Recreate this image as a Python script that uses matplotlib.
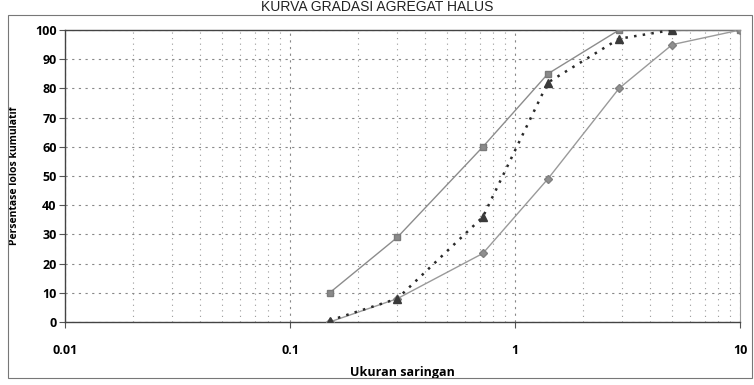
import matplotlib
matplotlib.use("Agg")
import matplotlib.pyplot as plt
from matplotlib.patches import Rectangle
from matplotlib.ticker import LogLocator, FixedLocator, NullFormatter

# Data
sieve = [0.15, 0.3, 0.72, 1.4, 2.9, 5.0, 10.0]
upper_limit = [10, 29, 60, 85, 100, 100, 100]
lower_limit = [0, 8, 23.5, 49, 80, 95, 100]
sample_sieve = [0.15, 0.3, 0.72, 1.4, 2.9, 5.0]
sample = [0.5, 8, 36, 82, 97, 100]
yticks = [0, 10, 20, 30, 40, 50, 60, 70, 80, 90, 100]
xticks = [0.01, 0.1, 1, 10]
xticklabels = ["0.01", "0.1", "1", "10"]

plt.rcParams['font.family'] = ['Open Sans', 'DejaVu Sans']

fig = plt.figure(figsize=(7.54, 3.85), dpi=100)
ax = fig.add_axes([65/754, 1-322/385, (740-65)/754, (322-30)/385])

ax.plot(sieve, upper_limit, color='#8c8c8c', lw=1.0, marker='s',
        markersize=5, markerfacecolor='#8a8a8a', markeredgecolor='#7a7a7a', zorder=3)
ax.plot(sieve, lower_limit, color='#9a9a9a', lw=1.0, marker='D',
        markersize=4, markerfacecolor='#8f8f8f', markeredgecolor='#808080', zorder=3)
ax.plot(sample_sieve, sample, color='#2a2a2a', lw=1.8, ls=(0, (1, 2.5)), marker='^',
        markersize=6, markerfacecolor='#3a3a3a', markeredgecolor='#3a3a3a', zorder=4)

ax.set_xscale('log')
ax.set_xlim(0.01, 10)
ax.set_ylim(0, 100)
ax.xaxis.set_major_locator(FixedLocator(xticks))
ax.xaxis.set_minor_locator(LogLocator(base=10, subs=range(2, 10)))
ax.xaxis.set_minor_formatter(NullFormatter())
ax.set_xticks(xticks)
ax.set_xticklabels(xticklabels)
ax.set_yticks(yticks)

ax.grid(which='major', axis='both', color='#888888', ls=(0, (2, 4)), lw=0.8)
ax.grid(which='minor', axis='x', color='#999999', ls=(0, (1, 4)), lw=0.8)

for lab in ax.get_yticklabels():
    lab.set_fontweight('bold')
    lab.set_fontsize(9)
for lab in ax.get_xticklabels():
    lab.set_fontweight('bold')
    lab.set_fontsize(9)
ax.tick_params(axis='y', length=4, width=0.8, pad=2, color='#555555')
ax.tick_params(axis='x', which='major', length=4, width=0.8, pad=12, color='#555555', direction='out')
ax.tick_params(axis='x', which='minor', length=0)

for s in ['left', 'bottom', 'top']:
    ax.spines[s].set_color('#444444')
    ax.spines[s].set_linewidth(1.0)
ax.spines['right'].set_color('#999999')
ax.spines['right'].set_linewidth(0.8)

ax.set_ylabel('Persentase lolos kumulatif', fontsize=7.5, fontweight='bold', labelpad=11)
ax.set_xlabel('Ukuran saringan', fontsize=9, fontweight='bold', labelpad=6)

fig.text(0.5, 0.999, 'KURVA GRADASI AGREGAT HALUS', ha='center', va='top',
         fontsize=10, family=['Liberation Sans', 'DejaVu Sans'], color='#222222')

fig.patches.append(Rectangle((8/754, 1-378/385), (752-8)/754, (378-15)/385,
                             transform=fig.transFigure, fill=False,
                             edgecolor='#777777', lw=0.8))

fig.savefig('out.png', dpi=100)
